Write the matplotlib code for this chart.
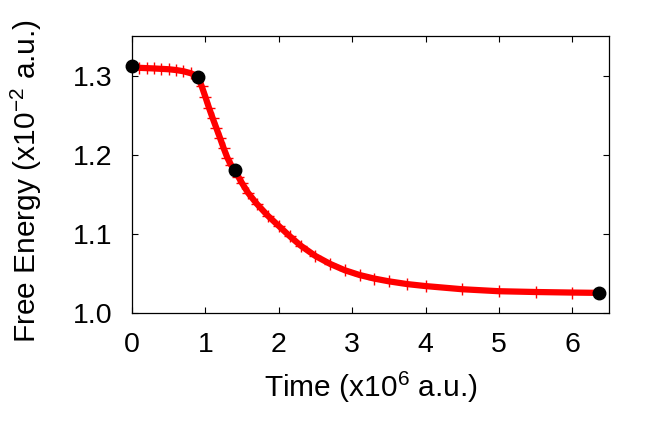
import matplotlib
matplotlib.use('Agg')
import matplotlib.pyplot as plt

plt.rcParams['font.family'] = ['Liberation Sans', 'DejaVu Sans']
plt.rcParams['mathtext.fontset'] = 'custom'
plt.rcParams['mathtext.rm'] = 'Liberation Sans'
plt.rcParams['mathtext.it'] = 'Liberation Sans:italic'
plt.rcParams['mathtext.default'] = 'regular'

# free energy curve (time in 1e6 a.u., energy in 1e-2 a.u.)
time = [0, 0.1, 0.2, 0.3, 0.4, 0.5, 0.6, 0.7, 0.8, 0.9, 0.95, 1.0, 1.05, 1.1,
        1.15, 1.2, 1.25, 1.3, 1.35, 1.4, 1.45, 1.5, 1.58, 1.7, 1.85, 2.0, 2.15,
        2.3, 2.5, 2.7, 2.9, 3.1, 3.3, 3.5, 3.75, 4.0, 4.5, 5.0, 5.5, 6.0, 6.36]
energy = [1.3115, 1.3098, 1.3094, 1.309, 1.3085, 1.308, 1.307, 1.3055, 1.303,
          1.2987, 1.2865, 1.273, 1.259, 1.246, 1.2335, 1.221, 1.208, 1.196,
          1.187, 1.181, 1.172, 1.164, 1.152, 1.138, 1.123, 1.110, 1.097, 1.085,
          1.072, 1.062, 1.054, 1.048, 1.0435, 1.040, 1.0365, 1.034, 1.030,
          1.0275, 1.0265, 1.0258, 1.0254]

# highlighted snapshots
snap_time = [0, 0.9, 1.4, 6.36]
snap_energy = [1.312, 1.2987, 1.181, 1.0252]

xticks = [0, 1, 2, 3, 4, 5, 6]
yticks = [1.0, 1.1, 1.2, 1.3]

fig = plt.figure(figsize=(6.64, 4.43), dpi=100)
ax = fig.add_axes([0.1988, 0.2935, 0.7184, 0.6252])

ax.plot(time, energy, color='#ff0000', lw=4.5, solid_capstyle='butt')
ax.plot(time, energy, '+', color='#ff0000', ms=8, mew=1)
ax.plot(snap_time, snap_energy, 'o', color='black', ms=9, clip_on=False, zorder=5)

ax.set_xlim(0, 6.5)
ax.set_ylim(1.0, 1.35)
ax.set_xticks(xticks)
ax.set_xticklabels([str(t) for t in xticks])
ax.set_yticks(yticks)
ax.set_yticklabels(['%.1f' % v for v in yticks])

ax.tick_params(direction='in', length=4.5, width=0.8, top=True, right=True,
               labelsize=20.5)
ax.tick_params(axis='y', pad=14)
ax.tick_params(axis='x', pad=14)
for s in ax.spines.values():
    s.set_linewidth(0.9)

fig.text(371 / 664, 1 - 397 / 443, 'Time (x10$^6$ a.u.)', ha='center',
         va='baseline', fontsize=21.5)
fig.text(26 / 664, 1 - 181 / 443, 'Free Energy (x10$^{-2}$ a.u.)', ha='center',
         va='center', rotation=90, fontsize=21.5)

fig.savefig('out.png', dpi=100)
